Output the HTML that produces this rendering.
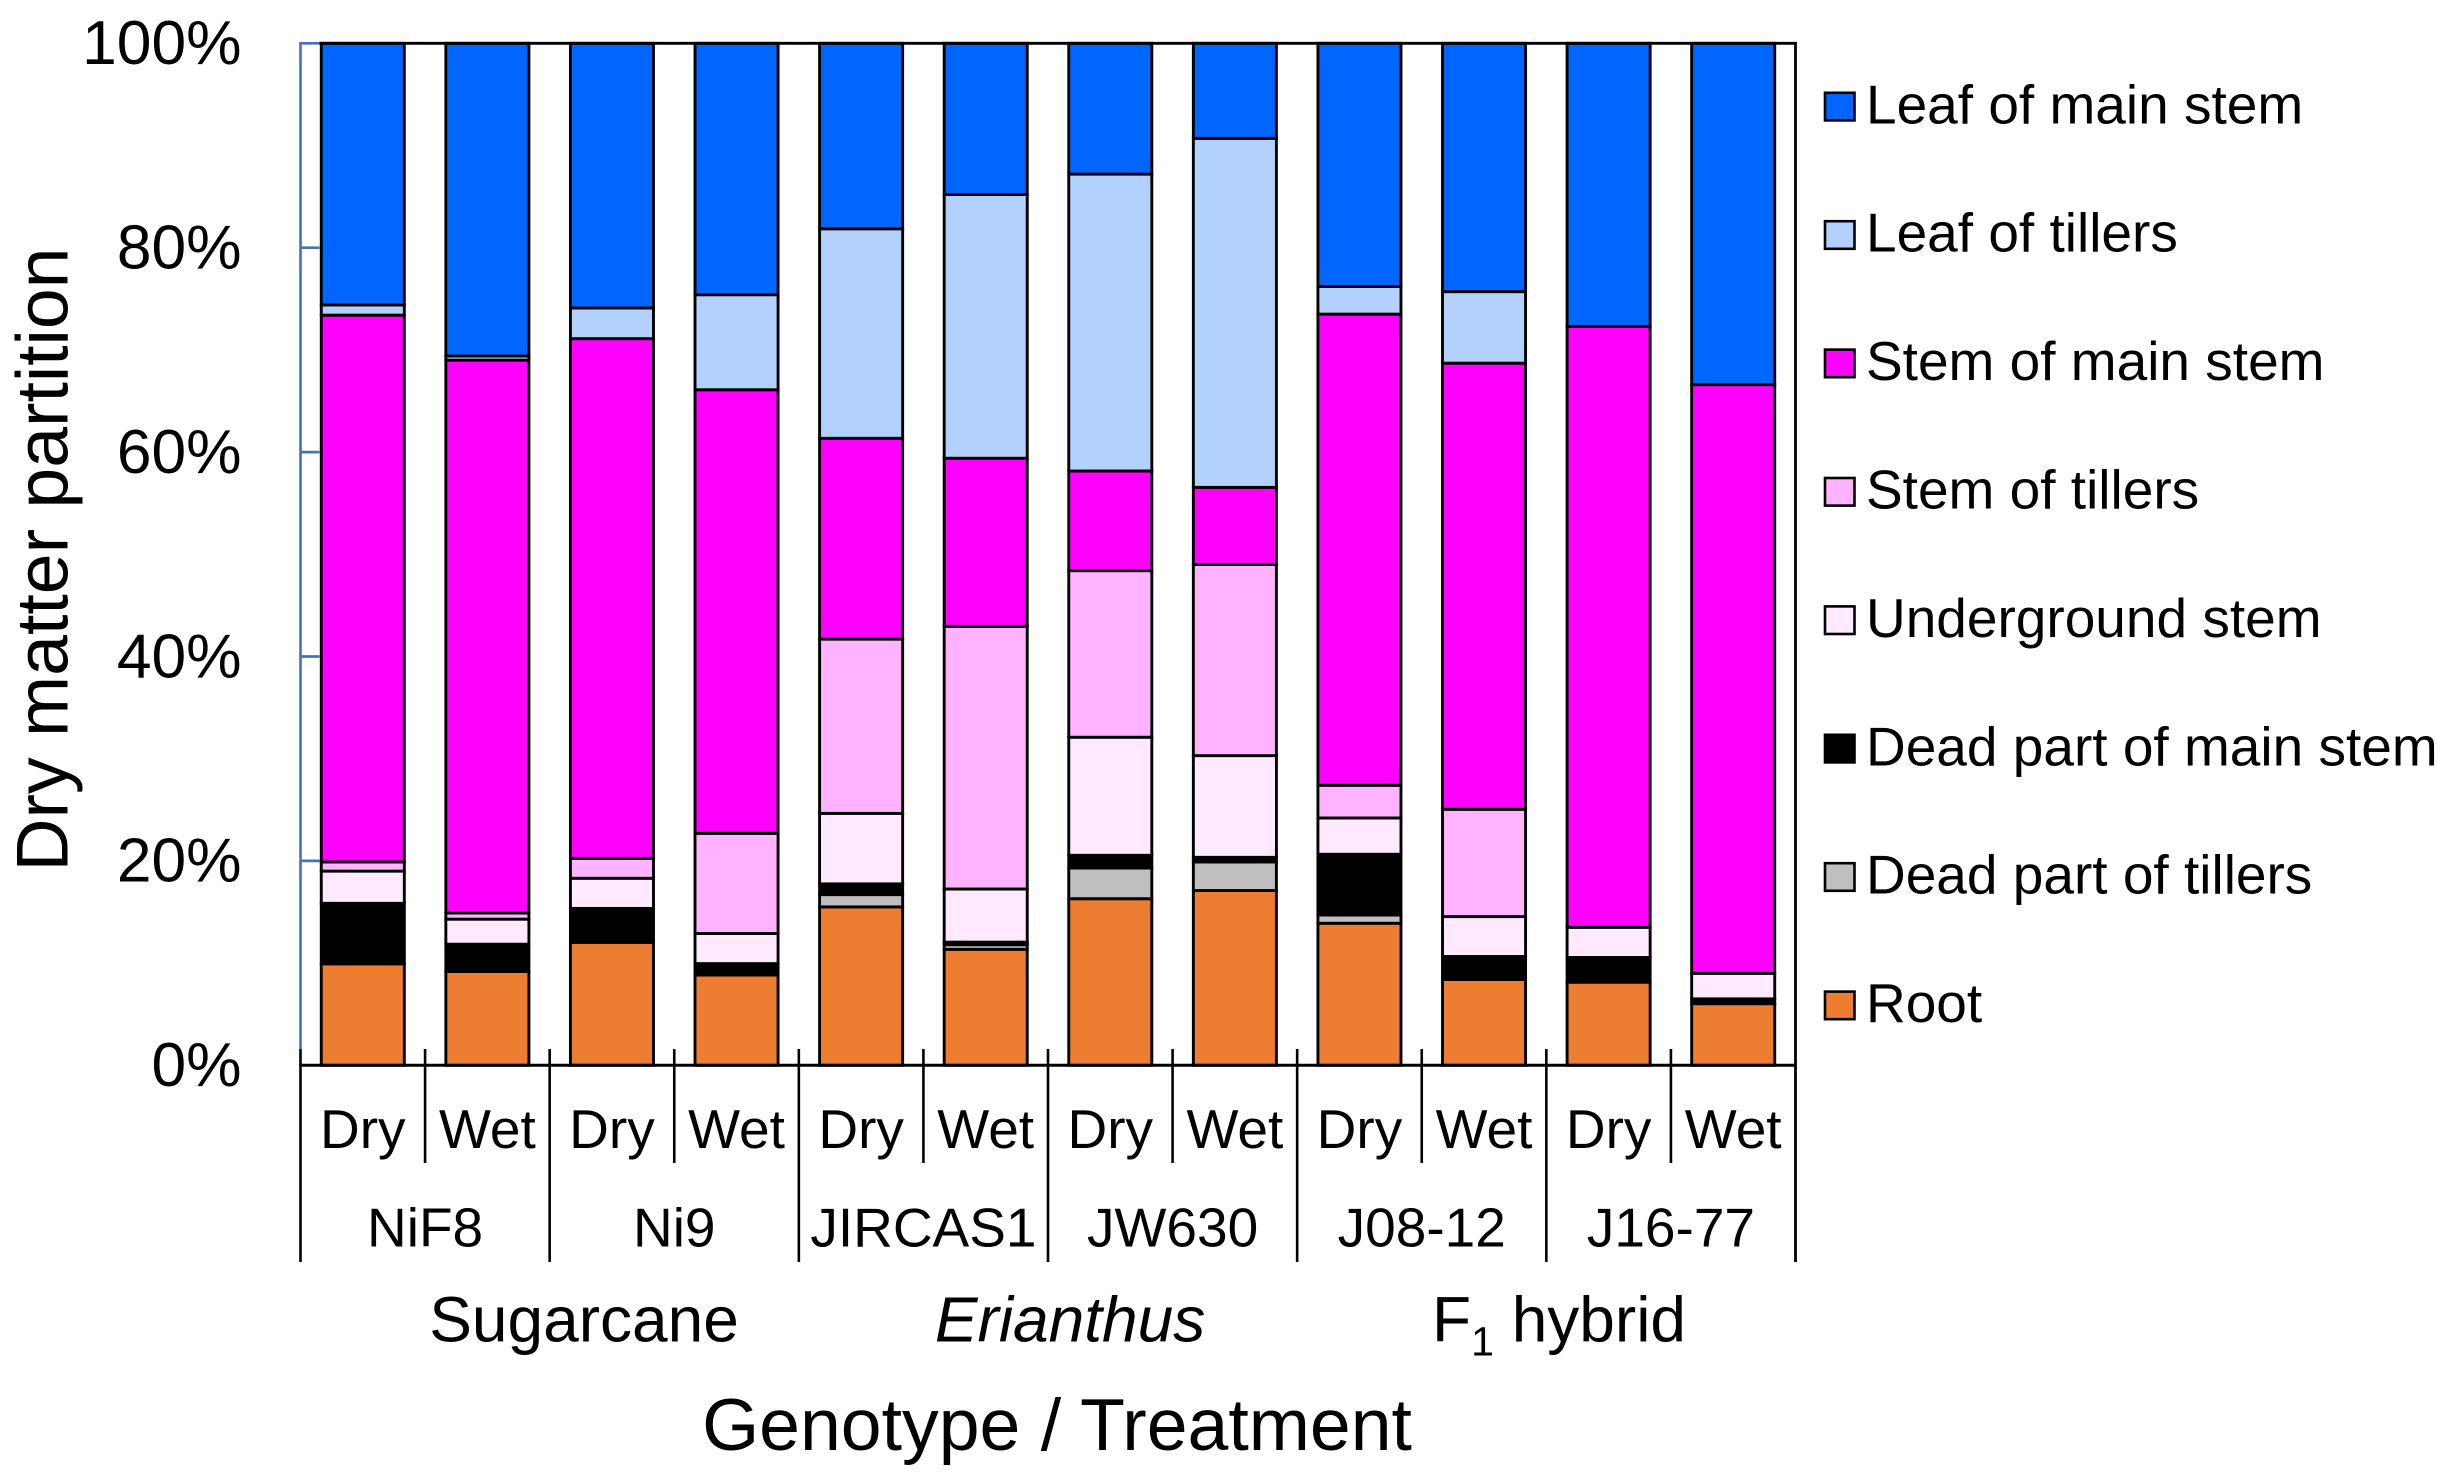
<!DOCTYPE html>
<html lang="en">
<head>
<meta charset="utf-8">
<title>Dry matter partition by genotype and treatment</title>
<style>
html,body{margin:0;padding:0;background:#fff;width:2438px;height:1478px;overflow:hidden}
svg{display:block}
text{font-family:"Liberation Sans",Arial,sans-serif;fill:#000}
</style>
</head>
<body>
<svg id="chart" xmlns="http://www.w3.org/2000/svg" width="2438" height="1478" viewBox="0 0 2438 1478">
  <text transform="translate(67.5,559.5) rotate(-90)" text-anchor="middle" font-size="73.4">Dry matter partition</text>
  <text x="584" y="1341.5" text-anchor="middle" font-size="64">Sugarcane</text>
  <text x="1070" y="1341.5" text-anchor="middle" font-size="64" font-style="italic">Erianthus</text>
  <text x="1432" y="1341.5" font-size="64">F<tspan font-size="41" dy="14">1</tspan><tspan dy="-14"> hybrid</tspan></text>
  <text x="1057" y="1450" text-anchor="middle" font-size="73.4">Genotype / Treatment</text>
</svg>
<script>
// Chart data (percent of dry matter)
const treatments = ["Dry","Wet","Dry","Wet","Dry","Wet","Dry","Wet","Dry","Wet","Dry","Wet"];
const genotypes = ["NiF8","Ni9","JIRCAS1","JW630","J08-12","J16-77"];
const yTickValues = [0,20,40,60,80,100];
const yTickLabels = ["0%","20%","40%","60%","80%","100%"];
// Stack order bottom to top
const root = [9.93,9.18,12.03,8.83,15.5,11.35,16.3,17.1,13.9,8.4,8.13,6.03];
const deadTillers = [0,0,0,0,1.2,0.45,3.0,2.8,0.8,0.25,0,0];
const deadMainStem = [5.92,2.67,3.32,1.12,1.05,0.25,1.25,0.45,5.95,2.0,2.42,0.47];
const undergroundStem = [3.15,2.45,2.95,2.95,6.9,5.2,11.55,9.95,3.55,3.9,2.95,2.5];
const stemTillers = [0.9,0.6,1.95,9.8,17.05,25.7,16.3,18.7,3.2,10.5,0,0];
const stemMainStem = [53.5,54.1,50.85,43.4,19.65,16.45,9.75,7.55,46.1,43.65,58.8,57.6];
const leafTillers = [1.0,0.4,3.0,9.3,20.5,25.8,29.05,34.15,2.7,7.0,0,0];
const leafMainStem = [25.6,30.6,25.9,24.6,18.15,14.8,12.8,9.3,23.8,24.3,27.7,33.4];
const stackSeries = [root,deadTillers,deadMainStem,undergroundStem,stemTillers,stemMainStem,leafTillers,leafMainStem];
const seriesNames = ["Root","Dead part of tillers","Dead part of main stem","Underground stem","Stem of tillers","Stem of main stem","Leaf of tillers","Leaf of main stem"];
const seriesSlugs = ["root","dead-tillers","dead-main-stem","underground-stem","stem-tillers","stem-main-stem","leaf-tillers","leaf-main-stem"];

// Appearance and layout
const seriesColors = ["#ed7d31","#bfbfbf","#000000","#ffe9ff","#ffb3ff","#ff00ff","#b3d1ff","#0066ff"];
const plotLeft = 300.5, plotRight = 1795.5, plotTop = 43.3, plotBottom = 1065.3;
const blue = "#4a72b2";
const svg = document.getElementById("chart");
const NS = "http://www.w3.org/2000/svg";
const yScale = v => plotBottom - (v / 100) * (plotBottom - plotTop);
const band = (plotRight - plotLeft) / treatments.length;
const xScale = i => plotLeft + band * i;

function make(tag, attrs, parent) {
  const el = document.createElementNS(NS, tag);
  for (const k in attrs) el.setAttribute(k, attrs[k]);
  (parent || svg).appendChild(el);
  return el;
}

// Bars
treatments.forEach((t, i) => {
  const barWidth = band / 1.5;
  let cum = 0;
  stackSeries.forEach((values, s) => {
    const v = values[i];
    const y1 = yScale(cum + v), y0 = yScale(cum);
    cum += v;
    if (v <= 0) return;
    const seg = make("rect", {x: xScale(i) + (band - barWidth) / 2, y: y1, width: barWidth, height: y0 - y1, fill: seriesColors[s], stroke: "#000", "stroke-width": 2.9});
    
    
  });
});

// Y axis
const leftAxis = make("line", {x1: plotLeft, x2: plotLeft, y1: plotTop - 1.3, y2: 1049, stroke: blue, "stroke-width": 2.6});



yTickValues.forEach((v, i) => {
  if (v > 0) {
    const tick = make("line", {x1: plotLeft, x2: plotLeft + 19, y1: yScale(v), y2: yScale(v), stroke: blue, "stroke-width": 2.7});
    
    
  }
  const label = make("text", {x: 241.5, y: yScale(v) + 20.8, "text-anchor": "end", "font-size": 62.3});
  label.textContent = yTickLabels[i];
  
  
});

// Frame lines
const topLine = make("line", {x1: plotLeft + 19, x2: plotRight + 1.3, y1: plotTop, y2: plotTop, stroke: "#000", "stroke-width": 2.9});



const baseLine = make("line", {x1: plotLeft - 1.3, x2: plotRight, y1: plotBottom, y2: plotBottom, stroke: "#000", "stroke-width": 3});



const rightLine = make("line", {x1: plotRight, x2: plotRight, y1: plotTop - 1.3, y2: 1262, stroke: "#000", "stroke-width": 2.8});



// Multi-level category separators
for (let i = 0; i < treatments.length; i++) {
  const major = i % 2 === 0;
  const sep = make("line", {x1: xScale(i), x2: xScale(i), y1: 1049, y2: major ? 1262 : 1163, stroke: "#000", "stroke-width": 2.6});
  
  
}

// Category labels
treatments.forEach((t, i) => {
  const label = make("text", {x: xScale(i) + band / 2, y: 1148, "text-anchor": "middle", "font-size": 55});
  label.textContent = t;
  
  
});
genotypes.forEach((g, i) => {
  const label = make("text", {x: xScale(i * 2) + band, y: 1246.5, "text-anchor": "middle", "font-size": 55});
  label.textContent = g;
  
  
});

// Legend (top to bottom is the reverse of the stack)
for (let s = stackSeries.length - 1, row = 0; s >= 0; s--, row++) {
  const cy = 106.6 + row * 128.4;
  const swatch = make("rect", {x: 1825, y: cy - 13.8, width: 29.5, height: 27.6, fill: seriesColors[s], stroke: "#000", "stroke-width": 2.6});
  
  
  const label = make("text", {x: 1866, y: cy + 16.7, "font-size": 55});
  label.textContent = seriesNames[s];
  
  
}
</script>
</body>
</html>
